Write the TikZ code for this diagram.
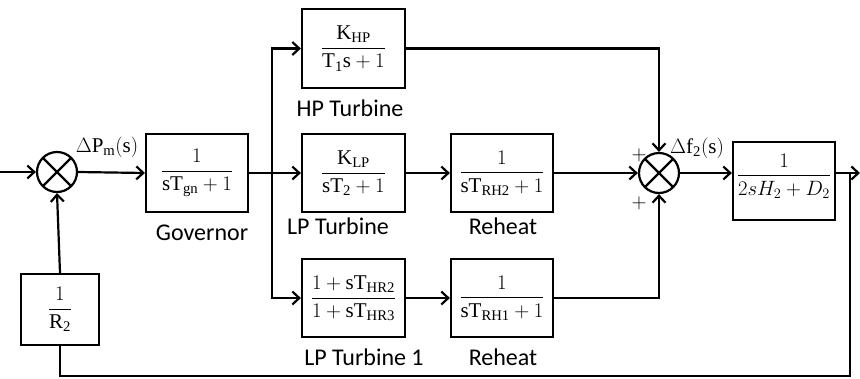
\documentclass[tikz,border=0pt]{standalone}
\usepackage{amsmath}
\usepackage{fontspec}
\setmainfont{Liberation Serif}
\newfontfamily\calib{Carlito}
\usetikzlibrary{arrows.meta}
\begin{document}
\begin{tikzpicture}[x=1pt,y=-1pt,
  line width=2.2pt,
  arr/.style={-{Straight Barb[length=7pt,width=13pt,line width=2.2pt]}},
  blk/.style={draw,rectangle,inner sep=0pt,minimum width=102pt,minimum height=78pt,
    font=\fontsize{21}{25}\selectfont},
  sumj/.style={draw,circle,minimum size=40pt,inner sep=0pt,
    path picture={\draw[line width=2.2pt] (path picture bounding box.north west)--(path picture bounding box.south east)
      (path picture bounding box.north east)--(path picture bounding box.south west);}},
  lbl/.style={font=\calib\fontsize{24}{28}\selectfont,inner sep=0pt},
  sgn/.style={font=\fontsize{21}{24}\selectfont,inner sep=0pt}]
\useasboundingbox (0,0) rectangle (860,378);

% nodes
\node[sumj] (s1) at (57,172) {};
\node[blk] (gov) at (197,173) {$\dfrac{1}{\mathrm{sT_{gn}}+1}$};
\node[blk,minimum width=103pt,minimum height=79pt] (hp) at (353.5,48.5) {$\dfrac{\mathrm{K_{HP}}}{\mathrm{T_1 s}+1}$};
\node[blk,minimum width=103pt] (lp) at (353.5,173) {$\dfrac{\mathrm{K_{LP}}}{\mathrm{sT_2}+1}$};
\node[blk] (rh1) at (502,173) {$\dfrac{1}{\mathrm{sT_{RH2}}+1}$};
\node[blk,minimum width=103pt] (lp1) at (353.5,298) {$\dfrac{1+\mathrm{sT_{HR2}}}{1+\mathrm{sT_{HR3}}}$};
\node[blk] (rh2) at (502,298) {$\dfrac{1}{\mathrm{sT_{RH1}}+1}$};
\node[sumj] (s2) at (659,173) {};
\node[blk] (pl) at (784,181) {};
\node[font=\fontsize{21}{25}\selectfont,inner sep=0pt] (plt) at (784,176) {$\dfrac{1}{2sH_2+D_2}$};
\node[blk,minimum width=78pt,minimum height=71pt] (R) at (60,309.5) {$\dfrac{1}{\mathrm{R_2}}$};

% labels
\node[lbl] (lgov) at (202,233) {Governor};
\node[lbl] (lhp) at (350,108) {HP Turbine};
\node[lbl] (llp) at (338,226) {LP Turbine};
\node[lbl] (lrh1) at (503,226) {Reheat};
\node[lbl] (llp1) at (364,357) {LP Turbine 1};
\node[lbl] (lrh2) at (503,357) {Reheat};
\node[sgn] (dpm) at (107,147) {$\Delta\mathrm{P_m(s)}$};
\node[sgn] (df) at (697,148) {$\Delta\mathrm{f_2(s)}$};
\node[sgn] (p1) at (639,155) {$+$};
\node[sgn] (p2) at (639,203) {$+$};

% coordinates
\coordinate (in) at (0,172);
\coordinate (br) at (272,173);
\coordinate (out) at (860,173);
\coordinate (fb) at (850,173);
\coordinate (fbl) at (60,376);

% connectors
\draw[arr] (in) -- (s1.west);
\draw[arr] (s1.east) -- (gov.west);
\draw (gov.east) -- (br);
\draw[arr] (br) -- (lp.west);
\draw[arr] (br) |- (hp.west);
\draw[arr] (br) |- (lp1.west);
\draw[arr] (lp.east) -- (rh1.west);
\draw[arr] (lp1.east) -- (rh2.west);
\draw[arr] (hp.east) -| (s2.north);
\draw[arr] (rh1.east) -- (s2.west);
\draw[arr] (rh2.east) -| (s2.south);
\draw[arr] (s2.east) -- (s2.east -| pl.west);
\draw[arr] (s2.east -| pl.east) -- (out);
\draw (fb) |- (fbl) -- (R.south);
\draw[arr] (R.north) -- (s1.south);
\end{tikzpicture}
\end{document}
